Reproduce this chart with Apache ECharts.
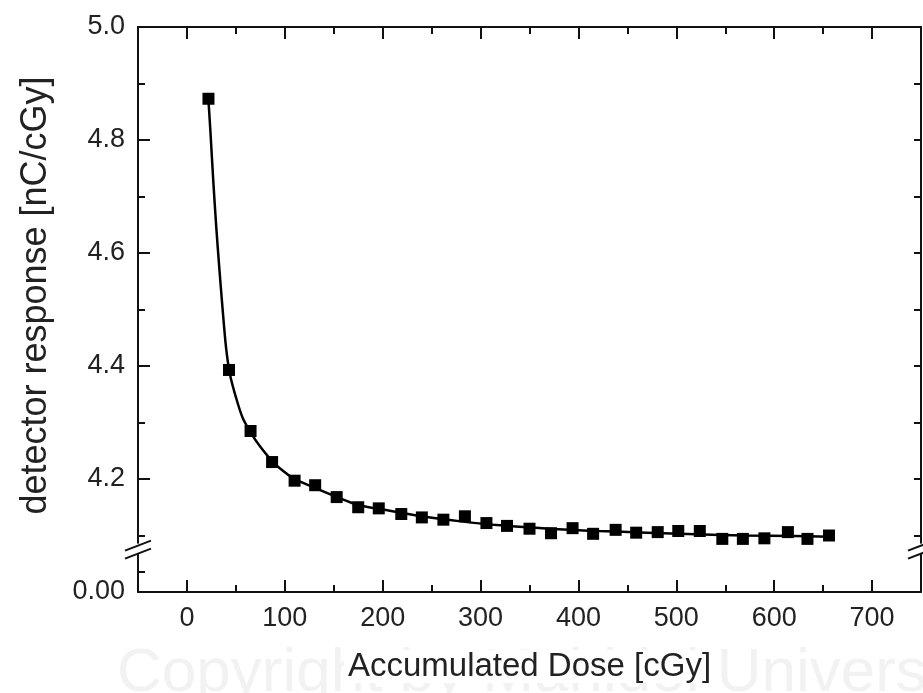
<!DOCTYPE html>
<html>
<head>
<meta charset="utf-8">
<script src="https://cdn.jsdelivr.net/npm/echarts@6.0.0/dist/echarts.min.js"></script>
<style>
html, body { margin: 0; padding: 0; background: #fff; }
#main { width: 923px; height: 693px; }
</style>
</head>
<body>
<div id="main"></div>
<script>
// measured detector response vs accumulated dose
const doseX = [22, 43, 65, 87, 110, 131, 153, 175, 196, 219, 240, 262, 284, 306, 327,
    350, 372, 394, 415, 438, 459, 481, 502, 524, 547, 568, 590, 614, 634, 656];
const responseY = [4.873, 4.393, 4.285, 4.230, 4.197, 4.189, 4.168, 4.150, 4.148, 4.138,
    4.132, 4.128, 4.134, 4.122, 4.117, 4.112, 4.104, 4.113, 4.103, 4.110,
    4.105, 4.106, 4.108, 4.108, 4.094, 4.094, 4.095, 4.106, 4.094, 4.100];

// fitted curve
const fitX = [22, 24, 27, 30, 33, 36, 40, 44, 50, 57, 66, 75, 88, 100, 110, 130, 155, 175,
    200, 240, 280, 320, 370, 420, 470, 520, 570, 620, 656];
const fitY = [4.870, 4.815, 4.725, 4.645, 4.575, 4.510, 4.432, 4.385, 4.345, 4.308, 4.280,
    4.257, 4.230, 4.212, 4.200, 4.185, 4.167, 4.154, 4.146, 4.134, 4.125, 4.118,
    4.112, 4.108, 4.105, 4.102, 4.100, 4.099, 4.098];

// ticks
const xMajorTicks = [0, 100, 200, 300, 400, 500, 600, 700];
const xMinorTicks = [50, 150, 250, 350, 450, 550, 650];
const yMajorTicks = [4.0, 4.2, 4.4, 4.6, 4.8, 5.0];
const yMinorTicks = [4.035, 4.1, 4.3, 4.5, 4.7, 4.9];
const breakY = 4.075;

const X_MIN = -50, X_MAX = 750, Y_MIN = 4.0, Y_MAX = 5.0;
const FONT = 'Liberation Sans, Arial, sans-serif';
const INK = '#111';
const TEXT = '#222';

function xAxisOf(pos, ticks, len, withLine, withLabels) {
    return {
        type: 'value', position: pos, min: X_MIN, max: X_MAX,
        splitLine: { show: false },
        axisLine: { show: withLine, onZero: false, lineStyle: { color: INK, width: 2 } },
        axisTick: { show: true, inside: true, length: len, customValues: ticks,
            lineStyle: { color: INK, width: 2 } },
        axisLabel: withLabels ? {
            customValues: xMajorTicks, margin: 13, fontSize: 27, fontFamily: FONT, color: TEXT
        } : { show: false }
    };
}

function yAxisOf(pos, ticks, len, withLine, withLabels) {
    return {
        type: 'value', position: pos, min: Y_MIN, max: Y_MAX,
        splitLine: { show: false },
        axisLine: { show: withLine, onZero: false, lineStyle: { color: INK, width: 2 } },
        axisTick: { show: true, inside: true, length: len, customValues: ticks,
            lineStyle: { color: INK, width: 2 } },
        axisLabel: withLabels ? {
            customValues: yMajorTicks, margin: 13, fontSize: 27, fontFamily: FONT, color: TEXT,
            formatter: function (v) { return v <= Y_MIN ? '0.00' : v.toFixed(1); }
        } : { show: false }
    };
}

const xBottom = xAxisOf('bottom', xMajorTicks, 12, true, true);
xBottom.name = 'Accumulated Dose [cGy]';
xBottom.nameLocation = 'middle';
xBottom.nameGap = 58;
xBottom.nameTextStyle = { fontSize: 33, fontFamily: FONT, color: TEXT,
    backgroundColor: '#fff', padding: [0, 4] };

const yLeft = yAxisOf('left', yMajorTicks.slice(1, 5), 12, true, true);
yLeft.name = 'detector response [nC/cGy]';
yLeft.nameLocation = 'middle';
yLeft.nameGap = 84;
yLeft.nameTextStyle = { fontSize: 36, fontFamily: FONT, color: TEXT, padding: [0, 0, 0, 28] };

const option = {
    animation: false,
    backgroundColor: '#fff',
    graphic: [{
        type: 'text', left: 117, top: 643, z: -10, silent: true,
        style: { text: 'Copyright by Mahidol University', fontSize: 62, fontFamily: FONT,
            fill: '#f2f2f2' }
    }],
    grid: { left: 138, right: 2, top: 27, bottom: 101, containLabel: false, outerBoundsMode: 'none' },
    xAxis: [
        xBottom,
        xAxisOf('bottom', xMinorTicks, 7, false, false),
        xAxisOf('top', xMajorTicks, 12, true, false),
        xAxisOf('top', xMinorTicks, 7, false, false)
    ],
    yAxis: [
        yLeft,
        yAxisOf('left', yMinorTicks, 7, false, false),
        yAxisOf('right', yMajorTicks.slice(1, 5).concat(yMinorTicks.slice(1)), 7, true, false)
    ],
    series: [
        {
            type: 'line',
            data: fitX.map((x, i) => [x, fitY[i]]),
            smooth: 0.3,
            showSymbol: false,
            lineStyle: { color: '#000', width: 2.5 },
            z: 3
        },
        {
            type: 'scatter',
            data: doseX.map((x, i) => [x, responseY[i]]),
            symbol: 'rect',
            symbolSize: 12,
            itemStyle: { color: '#000', opacity: 1 },
            z: 4
        },
        {
            // axis break marks on both vertical axes
            type: 'custom',
            clip: false,
            silent: true,
            data: [[X_MIN, breakY], [X_MAX, breakY]],
            renderItem: function (params, api) {
                const p = api.coord([api.value(0), api.value(1)]);
                const lineStyle = { stroke: INK, lineWidth: 2 };
                return {
                    type: 'group',
                    children: [
                        { type: 'rect', shape: { x: p[0] - 3, y: p[1] - 6, width: 6, height: 10 },
                            style: { fill: '#fff' } },
                        { type: 'line', shape: { x1: p[0] - 13, y1: p[1] + 1, x2: p[0] + 13, y2: p[1] - 9 },
                            style: lineStyle },
                        { type: 'line', shape: { x1: p[0] - 13, y1: p[1] + 9, x2: p[0] + 13, y2: p[1] - 1 },
                            style: lineStyle }
                    ]
                };
            },
            z: 5
        }
    ]
};

const chart = echarts.init(document.getElementById('main'));
chart.setOption(option);
</script>
</body>
</html>
